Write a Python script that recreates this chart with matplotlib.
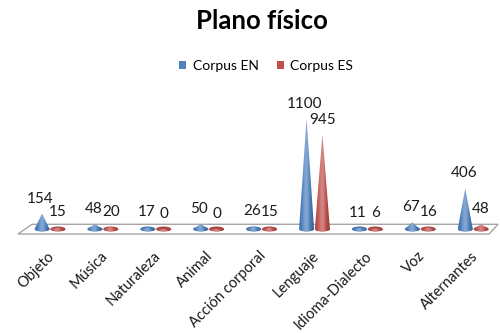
import numpy as np
import matplotlib
matplotlib.use("Agg")
import matplotlib.pyplot as plt
from matplotlib.patches import Polygon, Patch, Ellipse

categories = ["Objeto", "Música", "Naturaleza", "Animal", "Acción corporal",
              "Lenguaje", "Idioma-Dialecto", "Voz", "Alternantes"]
corpus_en = [154, 48, 17, 50, 26, 1100, 11, 67, 406]
corpus_es = [15, 20, 0, 0, 15, 945, 6, 16, 48]
series_names = ["Corpus EN", "Corpus ES"]
title = "Plano físico"

plt.rcParams['font.family'] = ['Lato', 'DejaVu Sans']

BLUE = np.array([79, 129, 189]) / 255
RED = np.array([192, 80, 77]) / 255

fig = plt.figure(figsize=(5, 3.33), dpi=100)
ax = fig.add_axes([0, 0, 1, 1])
ax.axis('off')

XLIM = (-0.945, 8.507)
YLIM = (-1040, 2290)

# floor (3D base plane)
floor = Polygon([(-0.605, -50), (8.30, -50), (8.47, 47), (-0.34, 47)],
                closed=True, facecolor='white', edgecolor='#A6A6A6', lw=1.0, zorder=1)
ax.add_patch(floor)

R = 0.142   # cone base half width (category units)
E = 25      # base ellipse half height (value units)


def shade_arr(base, f):
    f = f[..., None]
    hi = np.ones(3)
    lo = np.zeros(3)
    c = np.where(f >= 0, base + (hi - base) * f, base + (lo - base) * (-f))
    return np.clip(c, 0, 1)


u = np.linspace(-1, 1, 64)
fshade = 0.40 * np.exp(-((u + 0.1) / 0.5) ** 2) - 0.10 - 0.15 * np.clip(u, 0, None)


def draw_cone(xc, h, base):
    ax.add_patch(Ellipse((xc, 0), 2 * R, 2 * E, facecolor=base * 0.88,
                         edgecolor='none', zorder=3))
    phis = np.linspace(np.pi, 2 * np.pi, 60)
    pts = [(xc, h)] + [(xc + R * np.cos(p), E * np.sin(p)) for p in phis]
    clip = Polygon(pts, closed=True, facecolor='none', edgecolor='none',
                   transform=ax.transData)
    img = shade_arr(base, fshade)[None, :, :]
    top = max(h, E)
    im = ax.imshow(img, extent=[xc - R, xc + R, -E, top], aspect='auto',
                   interpolation='bilinear', zorder=4, origin='lower')
    im.set_clip_path(clip)


off = 0.15
for i, (ven, ves) in enumerate(zip(corpus_en, corpus_es)):
    draw_cone(i - off, ven, BLUE)
    draw_cone(i + off, ves, RED)
    ax.text(i - off - 0.03, ven + 150, str(ven), ha='center', va='center',
            fontsize=11, color='#1a1a1a', zorder=6)
    ax.text(i + off, ves + 150, str(ves), ha='center', va='center',
            fontsize=11, color='#1a1a1a', zorder=6)
    ax.text(i - 0.05, -200, categories[i], rotation=45, rotation_mode='anchor',
            ha='right', va='top', fontsize=10.5, color='#1a1a1a')

ax.set_xlim(*XLIM)
ax.set_ylim(*YLIM)

fig.text(262 / 500, 1 - 21 / 333, title, ha='center', va='center',
         fontsize=18.5, fontweight='bold', color='black')

handles = [Patch(facecolor=BLUE, edgecolor='none'), Patch(facecolor=RED, edgecolor='none')]
fig.legend(handles, series_names, loc='center', bbox_to_anchor=(266 / 500, 1 - 66 / 333),
           ncol=2, frameon=False, handlelength=0.55, handleheight=0.55,
           handletextpad=0.45, columnspacing=1.3, fontsize=10)

fig.savefig("out.png", dpi=100, facecolor='white')
